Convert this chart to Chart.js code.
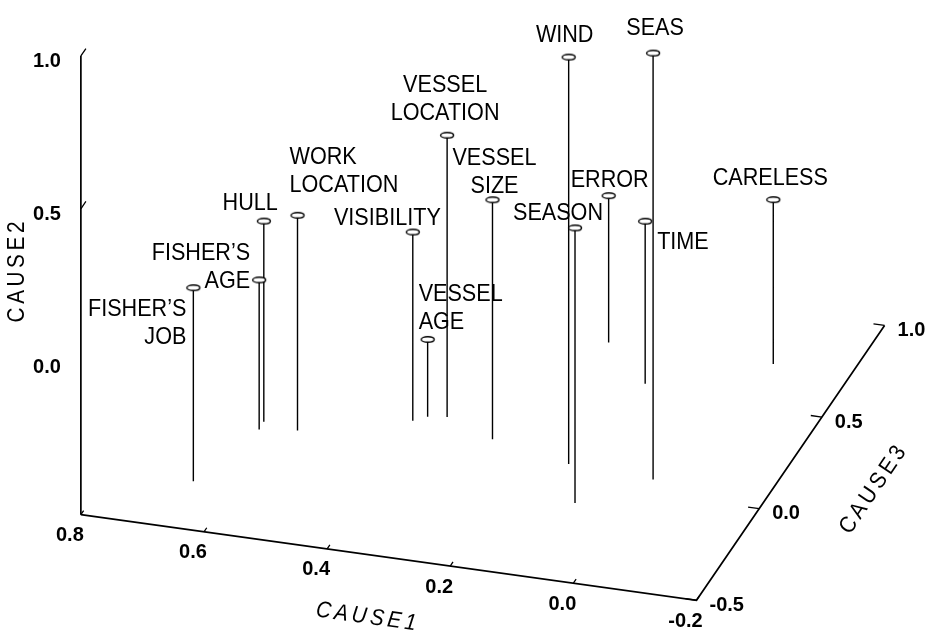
<!DOCTYPE html>
<html>
<head>
<meta charset="utf-8">
<script src="https://cdn.jsdelivr.net/npm/chart.js@4.4.1/dist/chart.umd.min.js"></script>
<style>
  html, body { margin: 0; padding: 0; background: #fff; }
  canvas { display: block; }
</style>
</head>
<body>
<canvas id="chart" width="932" height="641"></canvas>
<script>
// factor names and their loadings on the three causes
const factors = [
  ['FISHER\u2019S', 'JOB'], ['FISHER\u2019S', 'AGE'], ['HULL'], ['WORK', 'LOCATION'],
  ['VISIBILITY'], ['VESSEL', 'AGE'], ['VESSEL', 'LOCATION'], ['VESSEL', 'SIZE'],
  ['WIND'], ['SEASON'], ['ERROR'], ['TIME'], ['SEAS'], ['CARELESS']
];
const cause1 = [0.667, 0.622, 0.623, 0.564, 0.403, 0.385, 0.356, 0.266, 0.128, 0.079, 0.192, 0.096, -0.013, -0.074];
const cause2 = [0.133, -0.011, 0.156, 0.204, 0.117, -0.247, 0.421, 0.283, 0.830, 0.399, -0.020, 0.031, 0.894, 0.037];
const cause3 = [-0.256, 0.048, 0.090, 0.069, 0.198, 0.228, 0.241, 0.161, 0.091, -0.099, 0.724, 0.544, 0.072, 0.731];

const cause1Ticks = [0.8, 0.6, 0.4, 0.2, 0.0, -0.2];
const cause2Ticks = [1.0, 0.5, 0.0];
const cause3Ticks = [-0.5, 0.0, 0.5, 1.0];

// box limits
const c1Range = [-0.2, 0.8];
const c2Range = [-0.5, 1.0];
const c3Range = [-0.5, 1.0];

// where each label sits relative to its marker
const labelLayout = [
  { dx: -7, dy: 28, align: 'right' },
  { dx: -9, dy: -20, align: 'right' },
  { dx: 14, dy: -11, align: 'right' },
  { dx: -8, dy: -51, align: 'left' },
  { dx: 28, dy: -7, align: 'right' },
  { dx: -9, dy: -38, align: 'left' },
  { dx: -2, dy: -43, align: 'center' },
  { dx: 2, dy: -35, align: 'center' },
  { dx: -4, dy: -15, align: 'center' },
  { dx: -17, dy: -8, align: 'center' },
  { dx: 1, dy: -9, align: 'center' },
  { dx: 12, dy: 28, align: 'left' },
  { dx: 2, dy: -18, align: 'center' },
  { dx: -3, dy: -15, align: 'center' }
];

// simple oblique projection of the 3d box onto the page
const view = { ox: 75, oy: 519, e1: [-625, -87.5], e2: [0, -312.7], e3: [127.3, -187.3] };
function project(a, b, c) {
  const d1 = a - c1Range[1], d2 = b - c2Range[0], d3 = c - c3Range[0];
  return {
    x: view.ox + d1 * view.e1[0] + d2 * view.e2[0] + d3 * view.e3[0],
    y: view.oy + d1 * view.e1[1] + d2 * view.e2[1] + d3 * view.e3[1]
  };
}
const GAP = { x: null, y: null };

// axes
const axisPts = [
  project(c1Range[1], c2Range[0], c3Range[0]), project(c1Range[1], c2Range[1], c3Range[0]), GAP,
  project(c1Range[1], c2Range[0], c3Range[0]), project(c1Range[0], c2Range[0], c3Range[0]),
  project(c1Range[0], c2Range[0], c3Range[1])
];

// tick marks (no mark drawn at CAUSE2 = 0 in the original)
const tickPts = [];
cause2Ticks.filter(v => v !== 0).forEach(v => {
  tickPts.push(project(c1Range[1], v, c3Range[0]), project(c1Range[1], v, c3Range[0] + 0.04), GAP);
});
cause1Ticks.forEach(v => {
  tickPts.push(project(v, c2Range[0], c3Range[0]), project(v, c2Range[0], c3Range[0] + 0.022), GAP);
});
cause3Ticks.forEach(v => {
  tickPts.push(project(c1Range[0], c2Range[0], v), project(c1Range[0] + 0.018, c2Range[0], v), GAP);
});

// drop lines and markers
const stemPts = [];
const markerPts = [];
factors.forEach((f, i) => {
  const top = project(cause1[i], cause2[i], cause3[i]);
  stemPts.push(top, project(cause1[i], c2Range[0], cause3[i]), GAP);
  markerPts.push(top);
});

const ellipse = document.createElement('canvas');
ellipse.width = 18; ellipse.height = 9;
(function () {
  const g = ellipse.getContext('2d');
  g.beginPath();
  g.ellipse(9, 4.5, 6.5, 2.8, 0, 0, Math.PI * 2);
  g.fillStyle = '#fff'; g.fill();
  g.lineWidth = 1.4; g.strokeStyle = '#000'; g.stroke();
})();

function drawSpaced(ctx, text, x, y, angle, font, squeeze, spacing) {
  ctx.save();
  ctx.translate(x, y);
  ctx.rotate(angle);
  ctx.scale(squeeze, 1);
  ctx.font = font;
  ctx.textBaseline = 'middle';
  ctx.textAlign = 'left';
  const chars = [...text];
  const w = chars.reduce((s, ch) => s + ctx.measureText(ch).width, 0) + spacing * (chars.length - 1);
  let pos = -w / 2;
  chars.forEach(ch => { ctx.fillText(ch, pos, 0); pos += ctx.measureText(ch).width + spacing; });
  ctx.restore();
}

const textPlugin = {
  id: 'texts',
  afterDatasetsDraw(chart) {
    const ctx = chart.ctx;
    const sx = chart.scales.x, sy = chart.scales.y;
    const px = p => [sx.getPixelForValue(p.x), sy.getPixelForValue(p.y)];
    ctx.save();
    ctx.fillStyle = '#000';

    // point labels
    const labelFont = '24px "Liberation Sans", Arial, sans-serif';
    factors.forEach((lines, i) => {
      const [x, y] = px(markerPts[i]);
      const l = labelLayout[i];
      lines.forEach((t, k) => {
        ctx.save();
        ctx.translate(x + l.dx, y + l.dy + k * 28);
        ctx.scale(0.9, 1);
        ctx.font = labelFont;
        ctx.textAlign = l.align;
        ctx.textBaseline = 'alphabetic';
        ctx.fillText(t, 0, 0);
        ctx.restore();
      });
    });

    // tick labels
    ctx.font = 'bold 20px "Liberation Sans", Arial, sans-serif';
    ctx.textBaseline = 'middle';
    ctx.textAlign = 'right';
    cause2Ticks.forEach(v => {
      const [x, y] = px(project(c1Range[1], v, c3Range[0]));
      ctx.fillText(v.toFixed(1), x - 20, y + 6);
    });
    ctx.textAlign = 'center';
    cause1Ticks.forEach(v => {
      const [x, y] = px(project(v, c2Range[0], c3Range[0]));
      ctx.fillText(v.toFixed(1), x - 11, y + 21);
    });
    ctx.textAlign = 'left';
    cause3Ticks.forEach(v => {
      const [x, y] = px(project(c1Range[0], c2Range[0], v));
      ctx.fillText(v.toFixed(1), x + 13, y + 5);
    });

    // axis titles
    const titleFont = '23px "Liberation Sans", Arial, sans-serif';
    drawSpaced(ctx, 'CAUSE2', 18, 272, -Math.PI / 2, titleFont, 0.9, 4);
    drawSpaced(ctx, 'CAUSE1', 366, 617, Math.atan2(87.5, 625), 'italic ' + titleFont, 0.9, 4);
    drawSpaced(ctx, 'CAUSE3', 873, 490, -Math.atan2(187.3, 127.3), titleFont, 0.9, 4);
    ctx.restore();
  }
};

new Chart(document.getElementById('chart'), {
  type: 'scatter',
  data: {
    datasets: [
      { data: markerPts, pointStyle: ellipse, pointRadius: 6, showLine: false, order: 0 },
      { data: stemPts, showLine: true, spanGaps: false, borderColor: '#000', borderWidth: 1.4, pointRadius: 0, order: 1 },
      { data: tickPts, showLine: true, spanGaps: false, borderColor: '#000', borderWidth: 1.3, pointRadius: 0, order: 2 },
      { data: axisPts, showLine: true, spanGaps: false, borderColor: '#000', borderWidth: 1.7, pointRadius: 0, order: 3 }
    ]
  },
  options: {
    responsive: false,
    animation: false,
    events: [],
    layout: { padding: 0 },
    plugins: { legend: { display: false }, tooltip: { enabled: false } },
    scales: {
      x: { type: 'linear', min: 0, max: 932, display: false },
      y: { type: 'linear', min: 0, max: 641, reverse: true, display: false }
    }
  },
  plugins: [textPlugin]
});
</script>
</body>
</html>
